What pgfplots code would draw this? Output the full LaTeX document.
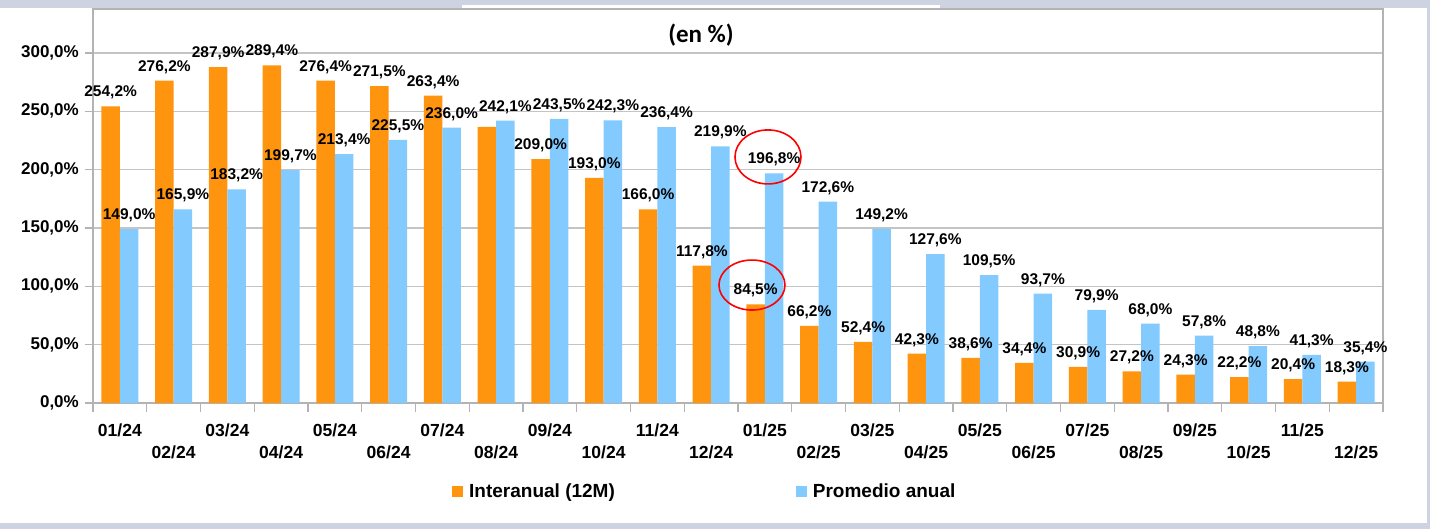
\documentclass[border=0pt]{standalone}
\usepackage{pgfplots}
\pgfplotsset{compat=1.18}
\usepackage{pgfplotstable}
\usepackage{fontspec}
\setmainfont{Liberation Sans}
\newfontfamily\titlefont{Carlito}
\definecolor{orangeC}{HTML}{FF950E}
\definecolor{blueC}{HTML}{83CAFF}
\definecolor{frameC}{HTML}{CDD3E0}
\definecolor{gridC}{HTML}{C4C4C4}
\definecolor{axisC}{HTML}{B3B3B3}

\pgfplotstableread{
x o
0 254.2
1 276.2
2 287.9
3 289.4
4 276.4
5 271.5
6 263.4
7 236.7
8 209.0
9 193.0
10 166.0
11 117.8
12 84.5
13 66.2
14 52.4
15 42.3
16 38.6
17 34.4
18 30.9
19 27.2
20 24.3
21 22.2
22 20.4
23 18.3
}\orangetab

\pgfplotstableread{
x b
0 149.0
1 165.9
2 183.2
3 199.7
4 213.4
5 225.5
6 236.0
7 242.1
8 243.5
9 242.3
10 236.4
11 219.9
12 196.8
13 172.6
14 149.2
15 127.6
16 109.5
17 93.7
18 79.9
19 68.0
20 57.8
21 48.8
22 41.3
23 35.4
}\bluetab

\pgfplotsset{
  pctlabels/.style={
    nodes near coords={\pgfmathprintnumber[fixed,fixed zerofill,precision=1,use comma]{\pgfplotspointmeta}\%},
    every node near coord/.append style={font=\bfseries\fontsize{15.5bp}{18bp}\selectfont, anchor=base, yshift=9.5bp, xshift=#1, text=black, inner sep=0pt},
  },
}

\begin{document}
\begin{tikzpicture}
\fill[frameC] (0,0) rectangle (1430bp,529bp);
\fill[white] (0,6bp) rectangle (1427bp,521bp);
\fill[white] (462bp,521bp) rectangle (940bp,524bp);
\node[font=\titlefont\bfseries\fontsize{25bp}{29bp}\selectfont] at (701bp,494bp) {(en \%)};
\begin{axis}[
  at={(93bp,126bp)}, anchor=south west, scale only axis,
  width=1290bp, height=394bp,
  xmin=-0.5, xmax=23.5, ymin=0, ymax=337.7,
  clip=false,
  /pgf/number format/assume math mode=true,
  axis line style={axisC, line width=1.2bp},
  tick align=outside,
  xtick pos=bottom, ytick pos=left,
  major tick length=8bp, minor tick length=9bp,
  tick style={axisC, line width=1.2bp},
  ytick={0,50,...,300},
  ymajorgrids, grid style={gridC, line width=1.3bp},
  yticklabel={\pgfmathprintnumber[fixed,fixed zerofill,precision=1,use comma]{\tick}\%},
  yticklabel style={font=\bfseries\fontsize{17bp}{20bp}\selectfont, anchor=east, inner sep=0pt, xshift=-6bp, text=black},
  xtick={0,2,...,22},
  xticklabels={01/24,03/24,05/24,07/24,09/24,11/24,01/25,03/25,05/25,07/25,09/25,11/25},
  extra x ticks={1,3,...,23},
  extra x tick labels={02/24,04/24,06/24,08/24,10/24,12/24,02/25,04/25,06/25,08/25,10/25,12/25},
  extra x tick style={xticklabel style={yshift=-30bp}, major tick length=0pt},
  major x tick style={draw=none},
  minor xtick={-0.5,0.5,...,23.5},
  xticklabel style={font=\bfseries\fontsize{17.5bp}{20bp}\selectfont, anchor=base, inner sep=0pt, yshift=-25bp, text=black},
  legend columns=2,
  legend style={at={(0,0)}, anchor=west, xshift=359bp, yshift=-88bp,
    draw=none, fill=none, inner sep=0pt,
    font=\bfseries\fontsize{19bp}{22bp}\selectfont,
    nodes={inner sep=0pt},
    /tikz/every odd column/.append style={column sep=6bp},
    /tikz/every even column/.append style={column sep=181bp}},
]
\addplot[ybar, bar width=18.5bp, bar shift=-9.25bp, fill=orangeC, draw=none, forget plot] table[x=x,y=o] {\orangetab};
\addplot[ybar, bar width=18.5bp, bar shift=9.25bp, fill=blueC, draw=none, forget plot] table[x=x,y=b] {\bluetab};
\addplot[ybar, bar width=18.5bp, bar shift=-9.25bp, fill=none, draw=none, pctlabels=-9.25bp, skip coords between index={7}{8}, forget plot] table[x=x,y=o] {\orangetab};
\addplot[ybar, bar width=18.5bp, bar shift=9.25bp, fill=none, draw=none, pctlabels=9.25bp, forget plot] table[x=x,y=b] {\bluetab};
\addlegendimage{fill=orangeC, draw=none, legend image code/.code={\fill[orangeC] (0bp,-5.5bp) rectangle (11bp,5.5bp);}}
\addlegendentry{Interanual (12M)}
\addlegendimage{fill=blueC, draw=none, legend image code/.code={\fill[blueC] (0bp,-5.5bp) rectangle (11bp,5.5bp);}}
\addlegendentry{Promedio anual}
\draw[red, line width=1.6bp] (axis cs:12.058,210.9) ellipse [x radius=33bp, y radius=27bp];
\draw[red, line width=1.6bp] (axis cs:11.76,101.1) ellipse [x radius=33bp, y radius=25bp];
\end{axis}
\pgfresetboundingbox
\useasboundingbox (0,0) rectangle (1430bp,529bp);
\end{tikzpicture}
\end{document}
